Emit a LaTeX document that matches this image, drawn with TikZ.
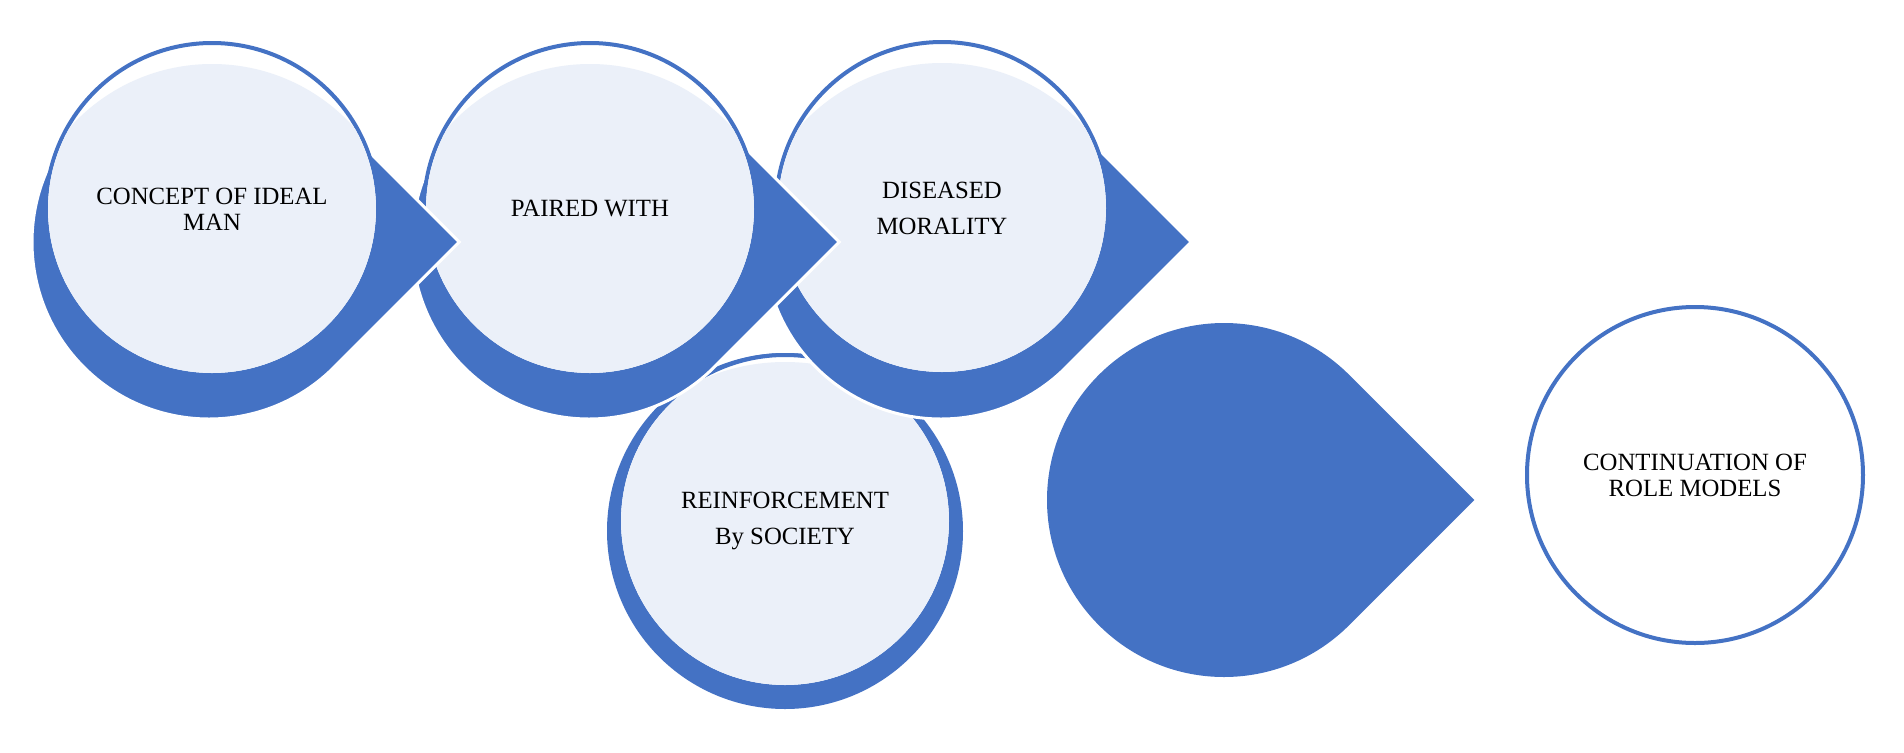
\documentclass[tikz,border=0pt]{standalone}
\usepackage{fontspec}
\setmainfont{Liberation Serif}
\usepackage{tikz}
\definecolor{smartblue}{RGB}{68,114,196}
\definecolor{smartlight}{RGB}{235,240,249}
\newcommand{\teardrop}[2]{\path[dropfill] (#1) ++(45:#2) arc[start angle=45,end angle=315,radius=#2] -- ++(45:#2) -- cycle;}
\newcommand{\bubble}[2][1.45]{%
    \path[bubbleline] (#2) circle (1.66);
    \begin{scope}
        \clip (#2) circle (1.64);
        \fill[bubblefill] (#2) ++(0,-0.46) circle ({#1+0.46});
    \end{scope}}

\begin{document}
\begin{tikzpicture}[
    every node/.style={font=\fontsize{7.05}{7.4}\selectfont, align=center, text=black},
    dropfill/.style={fill=smartblue, draw=white, line width=0.03cm},
    bubbleline/.style={draw=smartblue, fill=white, line width=0.04cm},
    bubblefill/.style={fill=smartlight}]
    \useasboundingbox (0,0) rectangle (19.04,7.52);

    \fill[smartblue] (7.85,2.21) circle (1.78);
    \bubble[1.59]{7.85,2.31}
    \node (society) at (7.85,2.31) {REINFORCEMENT\\[2.8pt]By SOCIETY};

    \teardrop{9.41,5.10}{1.77}
    \bubble{9.42,5.44}
    \node (morality) at (9.42,5.44) {DISEASED\\[2.8pt]MORALITY};

    \teardrop{5.89,5.10}{1.77}
    \bubble{5.90,5.43}
    \node (paired) at (5.90,5.43) {PAIRED WITH};

    \teardrop{2.09,5.10}{1.77}
    \bubble{2.12,5.43}
    \node (ideal) at (2.12,5.43) {CONCEPT OF IDEAL\\MAN};

    \fill[smartblue] (12.24,2.52) ++(45:1.77) arc[start angle=45,end angle=315,radius=1.77] -- ++(45:1.77) -- cycle;

    \node[circle, draw=smartblue, line width=0.04cm, minimum size=3.36cm, inner sep=0pt] (models) at (16.95,2.77) {CONTINUATION OF\\ROLE MODELS};
\end{tikzpicture}
\end{document}
